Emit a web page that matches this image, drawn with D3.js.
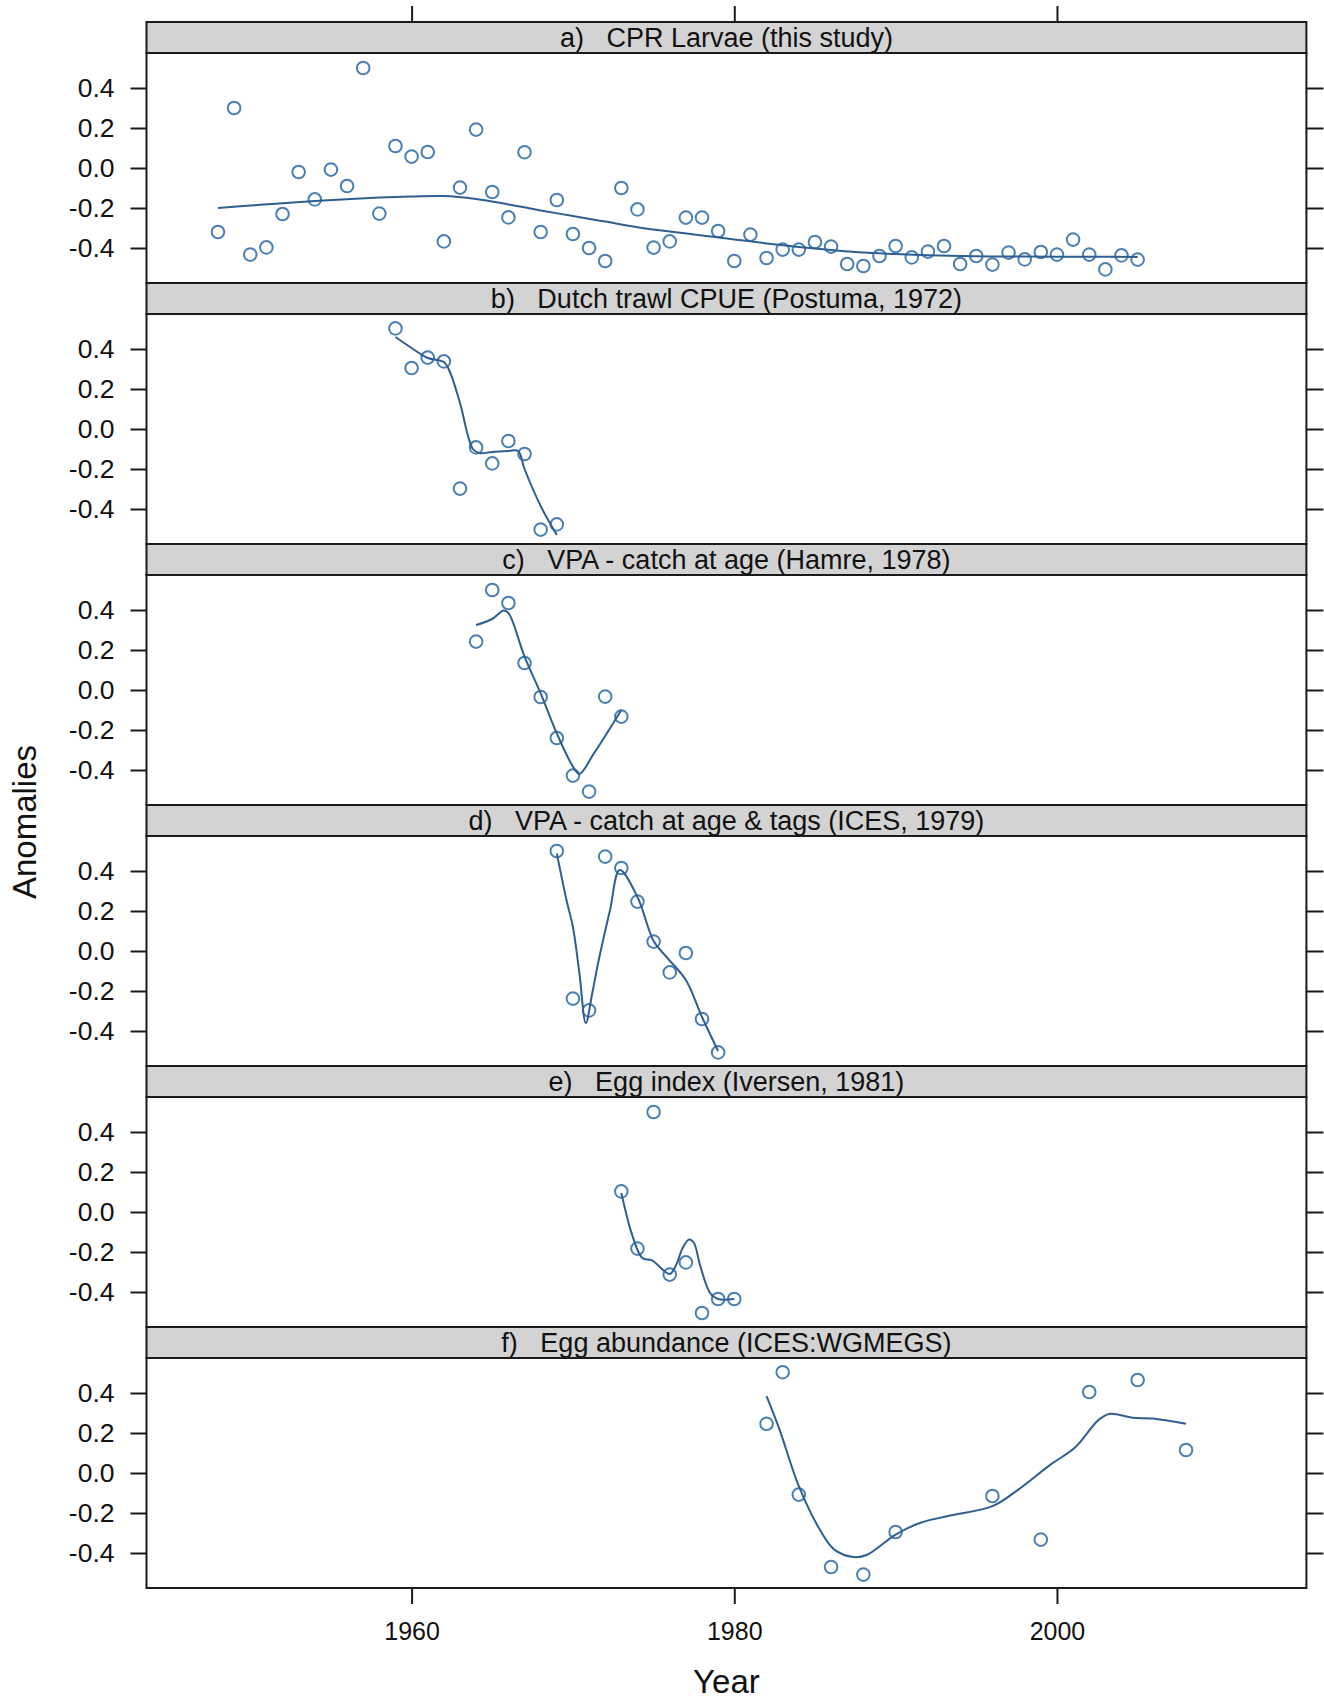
<!DOCTYPE html>
<html>
<head>
<meta charset="utf-8">
<script src="https://cdn.jsdelivr.net/npm/d3@7"></script>
<style>
body { margin: 0; background: #fff; }
text { font-family: "Liberation Sans", Arial, sans-serif; fill: #111; }
.frame { fill: none; stroke: #1a1a1a; stroke-width: 2px; }
.strip { fill: #d3d3d3; stroke: #1a1a1a; stroke-width: 2px; }
.tick line { stroke: #1a1a1a; stroke-width: 2px; }
.pt { fill: none; stroke: #4a7fb5; stroke-width: 2px; }
.fit { fill: none; stroke: #2e5f90; stroke-width: 2px; }
</style>
</head>
<body>
<div id="chart"></div>
<script>
// panel titles
var titles = [
  "a)   CPR Larvae (this study)",
  "b)   Dutch trawl CPUE (Postuma, 1972)",
  "c)   VPA - catch at age (Hamre, 1978)",
  "d)   VPA - catch at age & tags (ICES, 1979)",
  "e)   Egg index (Iversen, 1981)",
  "f)   Egg abundance (ICES:WGMEGS)"
];

// a) CPR larvae
var yearsA = [1948,1949,1950,1951,1952,1953,1954,1955,1956,1957,1958,1959,1960,1961,1962,1963,1964,1965,1966,1967,1968,1969,1970,1971,
  1972,1973,1974,1975,1976,1977,1978,1979,1980,1981,1982,1983,1984,1985,1986,1987,1988,1989,1990,1991,1992,1993,1994,1995,1996,1997,1998,1999,2000,2001,2002,2003,2004,2005];
var valsA = [-0.32,0.30,-0.433,-0.397,-0.23,-0.02,-0.157,-0.008,-0.09,0.50,-0.228,0.11,0.057,0.08,-0.367,-0.098,0.192,-0.12,-0.247,0.079,-0.32,-0.16,-0.33,-0.40,
  -0.465,-0.10,-0.207,-0.398,-0.367,-0.248,-0.248,-0.315,-0.465,-0.333,-0.45,-0.408,-0.408,-0.37,-0.393,-0.48,-0.49,-0.44,-0.39,-0.447,-0.418,-0.39,-0.48,-0.44,-0.483,-0.423,-0.457,-0.42,-0.433,-0.358,-0.433,-0.507,-0.437,-0.458];
var fitYearsA = [1948,1950,1952,1954,1956,1958,1960,1962,1964,1966,1968,1970,1972,1974,1976,1978,1980,1982,1984,1986,1988,1990,1992,1994,1996,1998,2000,2002,2005];
var fitA = [-0.200,-0.188,-0.176,-0.165,-0.156,-0.148,-0.143,-0.140,-0.155,-0.182,-0.212,-0.240,-0.268,-0.296,-0.318,-0.337,-0.357,-0.377,-0.395,-0.410,-0.423,-0.430,-0.436,-0.440,-0.442,-0.443,-0.444,-0.444,-0.445];

// b) Dutch trawl CPUE
var yearsB = [1959,1960,1961,1962,1963,1964,1965,1966,1967,1968,1969];
var valsB = [0.503,0.305,0.357,0.338,-0.298,-0.092,-0.172,-0.06,-0.125,-0.503,-0.477];
var fitYearsB = [1959,1960,1961,1962,1962.4,1963,1963.8,1964.2,1965,1966,1966.6,1967,1968,1969];
var fitB = [0.46,0.405,0.355,0.335,0.28,0.13,-0.10,-0.12,-0.115,-0.11,-0.11,-0.20,-0.385,-0.53];

// c) VPA - catch at age
var yearsC = [1964,1965,1966,1967,1968,1969,1970,1971,1972,1973];
var valsC = [0.242,0.50,0.435,0.135,-0.035,-0.24,-0.428,-0.508,-0.033,-0.133];
var fitYearsC = [1964,1965,1965.7,1966,1967,1968,1969,1970,1970.4,1971.3,1972.1,1973];
var fitC = [0.325,0.355,0.397,0.385,0.167,-0.017,-0.217,-0.383,-0.42,-0.317,-0.217,-0.10];

// d) VPA - catch at age & tags
var yearsD = [1969,1970,1971,1972,1973,1974,1975,1976,1977,1978,1979];
var valsD = [0.50,-0.238,-0.297,0.472,0.415,0.247,0.047,-0.107,-0.01,-0.34,-0.507];
var fitYearsD = [1969,1969.6,1970,1970.4,1970.8,1971.2,1971.6,1972.3,1972.9,1974,1975,1975.8,1977,1978,1979];
var fitD = [0.488,0.255,0.12,-0.11,-0.36,-0.21,-0.045,0.205,0.405,0.27,0.05,-0.03,-0.145,-0.33,-0.50];

// e) Egg index
var yearsE = [1973,1974,1975,1976,1977,1978,1979,1980];
var valsE = [0.103,-0.183,0.50,-0.313,-0.252,-0.505,-0.435,-0.435];
var fitYearsE = [1973,1973.7,1974.3,1974.9,1976,1976.4,1976.8,1977.2,1977.5,1977.9,1978.5,1979,1980];
var fitE = [0.095,-0.122,-0.23,-0.242,-0.31,-0.264,-0.18,-0.138,-0.155,-0.272,-0.405,-0.435,-0.435];

// f) Egg abundance
var yearsF = [1982,1983,1984,1986,1988,1990,1996,1999,2002,2005,2008];
var valsF = [0.246,0.504,-0.108,-0.47,-0.508,-0.295,-0.115,-0.333,0.405,0.465,0.115];
var fitYearsF = [1982,1982.8,1984,1985.3,1986.2,1987.4,1988.2,1990,1991.5,1993.2,1996,1997.6,1999.6,2001.1,2002.6,2003.3,2004.7,2005.9,2008];
var fitF = [0.384,0.218,-0.066,-0.283,-0.383,-0.42,-0.41,-0.308,-0.25,-0.216,-0.166,-0.083,0.042,0.126,0.267,0.296,0.276,0.272,0.246];

var yTicks = [-0.4, -0.2, 0.0, 0.2, 0.4];
var xTicks = [1960, 1980, 2000];

var panels = [
  {title: titles[0], years: yearsA, vals: valsA, fx: fitYearsA, fy: fitA},
  {title: titles[1], years: yearsB, vals: valsB, fx: fitYearsB, fy: fitB},
  {title: titles[2], years: yearsC, vals: valsC, fx: fitYearsC, fy: fitC},
  {title: titles[3], years: yearsD, vals: valsD, fx: fitYearsD, fy: fitD},
  {title: titles[4], years: yearsE, vals: valsE, fx: fitYearsE, fy: fitE},
  {title: titles[5], years: yearsF, vals: valsF, fx: fitYearsF, fy: fitF}
];

var width = 1324, height = 1701;
var plotLeft = 146.5, plotRight = 1306.4, plotTop = 22;
var pitch = 261, stripH = 31, plotH = 230;

var svg = d3.select("#chart").append("svg")
  .attr("width", width).attr("height", height);

var x = d3.scaleLinear().domain([1943.57, 2015.46]).range([plotLeft, plotRight]);

panels.forEach(function(p, i) {
  var sTop = plotTop + i * pitch;
  var pTop = sTop + stripH;
  var pBot = pTop + plotH;
  var y = d3.scaleLinear().domain([-0.575, 0.575]).range([pBot, pTop]);

  var g = svg.append("g");

  // strip
  g.append("rect").attr("class", "strip")
    .attr("x", plotLeft).attr("y", sTop)
    .attr("width", plotRight - plotLeft).attr("height", stripH);
  g.append("text")
    .attr("x", (plotLeft + plotRight) / 2).attr("y", sTop + stripH - 6)
    .attr("text-anchor", "middle")
    .attr("xml:space", "preserve")
    .style("white-space", "pre")
    .style("font-size", "27px")
    .text(p.title);

  // left axis with labels, right axis ticks only
  var ya = g.append("g").attr("transform", "translate(" + plotLeft + ",0)")
    .call(d3.axisLeft(y).tickValues(yTicks).tickSize(16).tickPadding(16)
      .tickFormat(d3.format(".1f")));
  ya.select(".domain").remove();
  ya.selectAll("text").style("font-size", "26.5px")
    .text(function(d) { return d3.format(".1f")(d).replace("\u2212", "-"); });

  var yr = g.append("g").attr("transform", "translate(" + plotRight + ",0)")
    .call(d3.axisRight(y).tickValues(yTicks).tickSize(17).tickFormat(""));
  yr.select(".domain").remove();

  // points
  g.selectAll("circle").data(p.years).enter().append("circle")
    .attr("class", "pt")
    .attr("cx", function(d) { return x(d); })
    .attr("cy", function(d, k) { return y(p.vals[k]); })
    .attr("r", 6.3);

  // smooth fit
  var line = d3.line()
    .x(function(d) { return x(d); })
    .y(function(d, k) { return y(p.fy[k]); })
    .curve(d3.curveCatmullRom.alpha(0.5));
  g.append("path").attr("class", "fit").attr("d", line(p.fx));

  // frame
  g.append("rect").attr("class", "frame")
    .attr("x", plotLeft).attr("y", pTop)
    .attr("width", plotRight - plotLeft).attr("height", plotH);

  if (i === 0) {
    var xt = g.append("g").attr("transform", "translate(0," + sTop + ")")
      .call(d3.axisTop(x).tickValues(xTicks).tickSize(16).tickFormat(""));
    xt.select(".domain").remove();
  }
  if (i === panels.length - 1) {
    var xb = g.append("g").attr("transform", "translate(0," + pBot + ")")
      .call(d3.axisBottom(x).tickValues(xTicks).tickSize(16).tickPadding(18)
        .tickFormat(d3.format("d")));
    xb.select(".domain").remove();
    xb.selectAll("text").style("font-size", "25px");
  }
});

// axis titles
svg.append("text")
  .attr("x", (plotLeft + plotRight) / 2).attr("y", 1693)
  .attr("text-anchor", "middle")
  .style("font-size", "33px")
  .text("Year");

svg.append("text")
  .attr("transform", "translate(36,822) rotate(-90)")
  .attr("text-anchor", "middle")
  .style("font-size", "33px")
  .text("Anomalies");
</script>
</body>
</html>
